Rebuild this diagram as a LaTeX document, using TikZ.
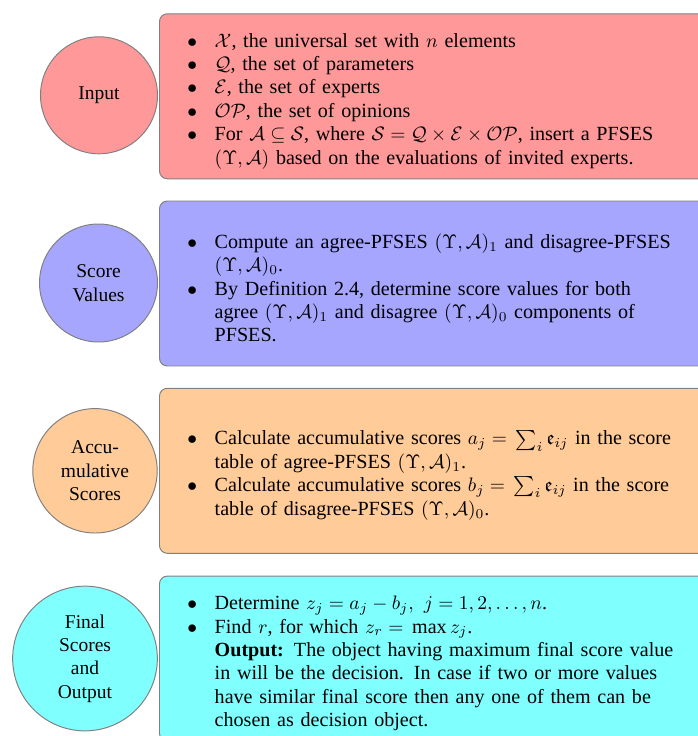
\documentclass[tikz,border=0pt]{standalone}
\usepackage{amssymb}
\usepackage{fontspec}
\setmainfont{Liberation Serif}
\usepackage{enumitem}
\definecolor{redfill}{RGB}{255,152,152}
\definecolor{bluefill}{RGB}{166,166,255}
\definecolor{orangefill}{RGB}{255,203,153}
\definecolor{cyanfill}{RGB}{128,255,255}
\definecolor{edgegray}{RGB}{128,128,128}
\newcommand\fxrel[1]{\mkern5mu{#1}\mkern5mu}
\newcommand\fxbin[1]{\mkern4mu{#1}\mkern4mu}
\newcommand\boxfont{\fontsize{10.3}{12}\selectfont}
\setlist[itemize]{nosep,leftmargin=25pt,labelsep=9pt,label=$\bullet$}
\begin{document}
\begin{tikzpicture}[x=0.5128pt,y=-0.5128pt,
  stagebox/.style={draw=edgegray,line width=0.5pt,rounded corners=4pt,anchor=west,
    text width=290pt,minimum height=84.6pt,inner xsep=3.33pt,font=\boxfont},
  stagecirc/.style={circle,draw=edgegray,line width=0.5pt,align=center,inner sep=0pt}]
\useasboundingbox (0,0) rectangle (697,736);
% boxes
\node[stagebox,fill=redfill] (b1) at (159,96.3) {%
\begin{itemize}
\item $\mathcal{X}$, the universal set with $n$ elements
\item $\mathcal{Q}$, the set of parameters
\item $\mathcal{E}$, the set of experts
\item $\mathcal{OP}$, the set of opinions
\item For $\mathcal{A}\fxrel{\subseteq}\mathcal{S}$, where $\mathcal{S}\fxrel{=}\mathcal{Q}\fxbin{\times}\mathcal{E}\fxbin{\times}\mathcal{OP}$, insert a PFSES\newline
$(\Upsilon,\mathcal{A})$ based on the evaluations of invited experts.
\end{itemize}};
\node[stagebox,fill=bluefill] (b2) at (159,283.5) {%
\begin{itemize}
\item Compute an agree-PFSES $(\Upsilon,\mathcal{A})_1$ and disagree-PFSES\newline
$(\Upsilon,\mathcal{A})_0$.
\item By Definition 2.4, determine score values for both\newline
agree $(\Upsilon,\mathcal{A})_1$ and disagree $(\Upsilon,\mathcal{A})_0$ components of\newline
PFSES.
\end{itemize}};
\node[stagebox,fill=orangefill] (b3) at (159,470.8) {%
\begin{itemize}
\item Calculate accumulative scores $a_j\fxrel{=}\sum_i \mathfrak{e}_{ij}$ in the score\newline
table of agree-PFSES $(\Upsilon,\mathcal{A})_1$.
\item Calculate accumulative scores $b_j\fxrel{=}\sum_i \mathfrak{e}_{ij}$ in the score\newline
table of disagree-PFSES $(\Upsilon,\mathcal{A})_0$.
\end{itemize}};
\node[stagebox,fill=cyanfill] (b4) at (159,658.6) {%
\begin{itemize}
\item Determine $z_j\fxrel{=}a_j\fxbin{-}b_j,\ j\fxrel{=}1,2,\ldots,n$.
\item Find $r$, for which $z_r\fxrel{=}\max z_j$.\newline
\textbf{Output:} The object having maximum final score value\newline
in will be the decision. In case if two or more values\newline
have similar final score then any one of them can be\newline
chosen as decision object.
\end{itemize}};
% circles
\node[stagecirc,fill=redfill,minimum size=60pt] (c1) at (99,95.3) {Input};
\node[stagecirc,fill=bluefill,minimum size=60.5pt] (c2) at (98.5,283) {Score\\Values};
\node[stagecirc,fill=orangefill,minimum size=63.8pt] (c3) at (95,470.8) {Accu-\\mulative\\Scores};
\node[stagecirc,fill=cyanfill,minimum size=74.2pt] (c4) at (85,658.5) {Final\\Scores\\and\\Output};
\end{tikzpicture}
\end{document}
